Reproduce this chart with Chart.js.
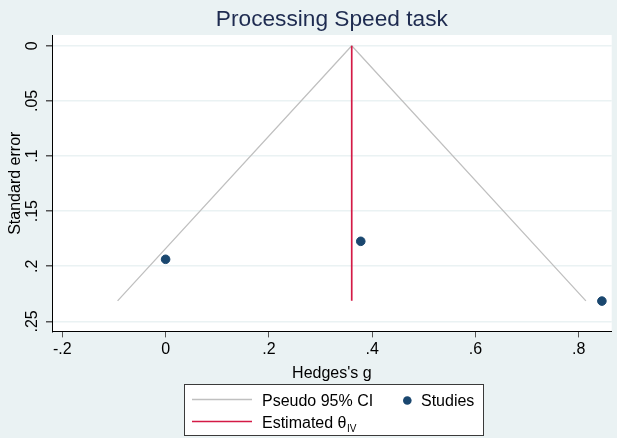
<!DOCTYPE html>
<html lang="en">
<head>
<meta charset="UTF-8">
<title>Processing Speed task</title>
<script src="https://cdn.jsdelivr.net/npm/chart.js@4.4.0/dist/chart.umd.min.js"></script>
<style>
  body { margin: 0; background: #eaf2f3; }
  #grafico { display: block; }
</style>
</head>
<body>
<canvas id="grafico" width="617" height="438"></canvas>
<script>
// values
var estudosX = [0.0, 0.378, 0.845];
var estudosSE = [0.1937, 0.1774, 0.2316];
var ciX = [-0.093, 0.3605, 0.814];
var ciY = [0.2314, 0, 0.2314];
var thetaX = [0.3605, 0.3605];
var thetaY = [0, 0.2314];
var xTicks = [-0.2, 0, 0.2, 0.4, 0.6, 0.8];
var xTickLabels = ['-.2', '0', '.2', '.4', '.6', '.8'];
var yTicks = [0, 0.05, 0.1, 0.15, 0.2, 0.25];
var yTickLabels = ['0', '.05', '.1', '.15', '.2', '.25'];

var fonte = '"Liberation Sans", Arial, Helvetica, sans-serif';
Chart.defaults.font.family = fonte;
Chart.defaults.font.size = 16;
Chart.defaults.color = '#000';

function juntar(xs, ys) {
    return xs.map(function (x, i) { return { x: x, y: ys[i] }; });
}

// background + white plot region
var fundo = {
    id: 'fundo',
    beforeDraw: function (chart) {
        var ctx = chart.ctx, a = chart.chartArea;
        ctx.save();
        ctx.fillStyle = '#eaf2f3';
        ctx.fillRect(0, 0, chart.width, chart.height);
        ctx.fillStyle = '#ffffff';
        ctx.fillRect(a.left, a.top, a.right - a.left, a.bottom - a.top);
        ctx.restore();
    }
};

// stata-like legend box under the axis title
var legenda = {
    id: 'legenda',
    afterDraw: function (chart) {
        var ctx = chart.ctx;
        var ds = chart.data.datasets;
        ctx.save();
        ctx.fillStyle = '#ffffff';
        ctx.strokeStyle = '#3a3a3a';
        ctx.lineWidth = 1;
        ctx.fillRect(184.5, 384.5, 299, 51);
        ctx.strokeRect(184.5, 384.5, 299, 51);

        ctx.font = '16px ' + fonte;
        ctx.textBaseline = 'alphabetic';
        ctx.textAlign = 'left';

        // Pseudo 95% CI
        ctx.strokeStyle = ds[2].borderColor;
        ctx.lineWidth = ds[2].borderWidth;
        ctx.beginPath(); ctx.moveTo(192, 399.5); ctx.lineTo(252, 399.5); ctx.stroke();
        ctx.fillStyle = '#000';
        ctx.fillText(ds[2].label, 262, 406);

        // Estimated theta
        ctx.strokeStyle = ds[1].borderColor;
        ctx.lineWidth = ds[1].borderWidth;
        ctx.beginPath(); ctx.moveTo(192, 421.5); ctx.lineTo(252, 421.5); ctx.stroke();
        ctx.fillText('Estimated θ', 262, 427.5);
        var w = ctx.measureText('Estimated θ').width;
        ctx.font = '10px ' + fonte;
        ctx.fillText('IV', 262 + w + 0.5, 431.5);

        // Studies
        ctx.font = '16px ' + fonte;
        ctx.fillStyle = ds[0].backgroundColor;
        ctx.beginPath(); ctx.arc(407.3, 400.5, 4.3, 0, Math.PI * 2); ctx.fill();
        ctx.fillStyle = '#000';
        ctx.fillText(ds[0].label, 421, 406);
        ctx.restore();
    }
};

var ctx = document.getElementById('grafico').getContext('2d');
var grafico = new Chart(ctx, {
    type: 'scatter',
    data: {
        datasets: [{
            label: 'Studies',
            data: juntar(estudosX, estudosSE),
            backgroundColor: '#1a476f',
            borderColor: '#1a476f',
            pointRadius: 4.3,
            order: 0
        }, {
            label: 'Estimated θIV',
            data: juntar(thetaX, thetaY),
            showLine: true,
            borderColor: '#d41a46',
            borderWidth: 1.7,
            pointRadius: 0,
            order: 1
        }, {
            label: 'Pseudo 95% CI',
            data: juntar(ciX, ciY),
            showLine: true,
            borderColor: '#c0c0c0',
            borderWidth: 1.3,
            pointRadius: 0,
            order: 2
        }]
    },
    options: {
        responsive: false,
        animation: false,
        layout: { padding: { top: 0, left: 0, right: 1, bottom: 55 } },
        plugins: {
            legend: { display: false },
            tooltip: { enabled: false },
            title: {
                display: true,
                text: 'Processing Speed task',
                fullSize: false,
                color: '#1e2b50',
                font: { size: 22.7, weight: 'normal' },
                padding: { top: 6, bottom: 1.8 }
            }
        },
        scales: {
            x: {
                type: 'linear',
                min: -0.22,
                max: 0.864,
                afterFit: function (s) { s.height = 51.6; },
                afterBuildTicks: function (s) {
                    s.ticks = xTicks.map(function (v) { return { value: v }; });
                },
                ticks: {
                    padding: 3,
                    maxRotation: 0,
                    callback: function (v, i) { return xTickLabels[i]; }
                },
                grid: { drawOnChartArea: false, tickLength: 6, tickColor: '#555' },
                border: { color: '#000', width: 1 },
                title: { display: true, text: "Hedges's g", padding: { top: 0, bottom: 0 } }
            },
            y: {
                type: 'linear',
                reverse: true,
                min: -0.0097,
                max: 0.2591,
                afterFit: function (s) { s.width = 52; },
                afterBuildTicks: function (s) {
                    s.ticks = yTicks.map(function (v) { return { value: v }; });
                },
                ticks: {
                    minRotation: 90,
                    maxRotation: 90,
                    crossAlign: 'center',
                    padding: 2,
                    callback: function (v, i) { return yTickLabels[i]; }
                },
                grid: { color: '#eaf2f3', lineWidth: 1.5, tickLength: 6, tickColor: '#555' },
                border: { color: '#000', width: 1 },
                title: { display: true, text: 'Standard error', padding: { top: 6, bottom: 0 } }
            }
        }
    },
    plugins: [fundo, legenda]
});
</script>
</body>
</html>
